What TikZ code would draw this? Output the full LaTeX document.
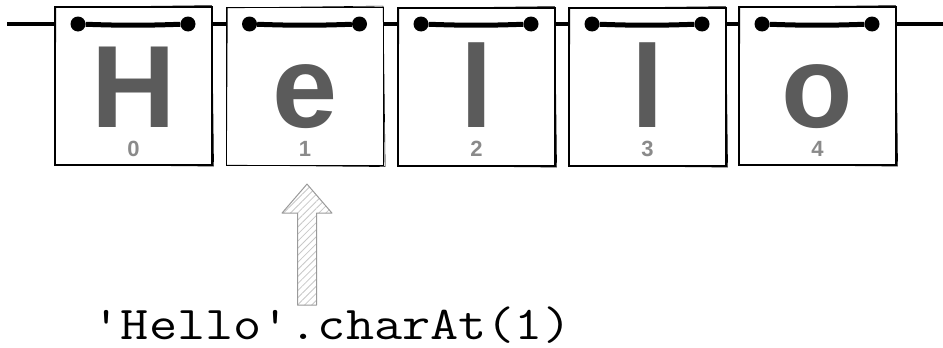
\documentclass[tikz,border=0pt]{standalone}
\usepackage{fontspec}
\usepackage{graphicx}
\setmainfont{Liberation Sans}
\usetikzlibrary{calc,patterns.meta}
\definecolor{lettergray}{HTML}{5B5B5B}
\definecolor{idxgray}{HTML}{8A8A8A}
\definecolor{arrowgray}{HTML}{9A9A9A}
\definecolor{hatchgray}{HTML}{C8C8C8}
\begin{document}
\begin{tikzpicture}[x=1pt,y=-1pt,
  cell/.style={draw=black, fill=white, line width=1.2pt, minimum width=157pt, minimum height=158pt, inner sep=0pt},
  sketch/.style={draw=black, line width=0.6pt},
  glyph/.style={text=lettergray, font=\fontsize{117}{117}\selectfont\bfseries, inner sep=0pt, anchor=base, text depth=0pt},
  idx/.style={text=idxgray, font=\fontsize{22}{22}\selectfont\bfseries, inner sep=0pt, anchor=base, text depth=0pt},
  dot/.style={circle, fill=black, inner sep=0pt, minimum size=15pt},
  string/.style={line width=4.5pt},
  hanger/.style={line width=5pt},
  arrowshape/.style={draw=arrowgray, line width=1pt, line join=round, pattern={Lines[angle=45,distance=5pt,line width=0.8pt]}, pattern color=hatchgray},
  code/.style={font=\fontsize{47}{47}\selectfont\ttfamily, inner sep=0pt, anchor=base}]
\useasboundingbox (0,0) rectangle (943,348);
\fill[white] (0,0) rectangle (943,348);
% the string
\coordinate (sL) at (7,24);
\coordinate (sR) at (943,24);
\draw[string] (sL) -- (sR);
% cells
\foreach \i/\ch/\cx/\cy in {0/H/133.5/86, 1/e/305/86.5, 2/l/476.5/87, 3/l/647.5/87, 4/o/817.5/86}{
  \node[cell] (b\i) at (\cx,\cy) {};
  \draw[sketch] ($(b\i.north west)+(1.5,1)$) -- ($(b\i.north east)+(-1,-0.8)$) -- ($(b\i.south east)+(1,0.5)$) -- ($(b\i.south west)+(0.6,-1)$) -- cycle;
  \node[dot] (dl\i) at ({\cx-55.5},24) {};
  \node[dot] (dr\i) at ({\cx+54.5},24) {};
  \draw[hanger] (dl\i) to[bend right=2] (dr\i);
  \node[glyph] (g\i) at (\cx,127) {\ch};
  \node[idx] (n\i) at (\cx,156) {\i};
}
% code text
\node[code] (code) at (332,339) {\scalebox{1.163}[1]{'Hello'.charAt(1)}};
% arrow
\coordinate (tip) at ($(b1.south)+(2,18)$);
\coordinate (tail) at (tip |- 0,305);
\draw[arrowshape] (tip) -- ($(tip)+(25,29)$) -- ($(tip)+(9.5,29)$) -- ($(tail)+(9.5,0)$) -- ($(tail)+(-9.5,0)$) -- ($(tip)+(-9.5,29)$) -- ($(tip)+(-25,29)$) -- cycle;
\end{tikzpicture}
\end{document}
